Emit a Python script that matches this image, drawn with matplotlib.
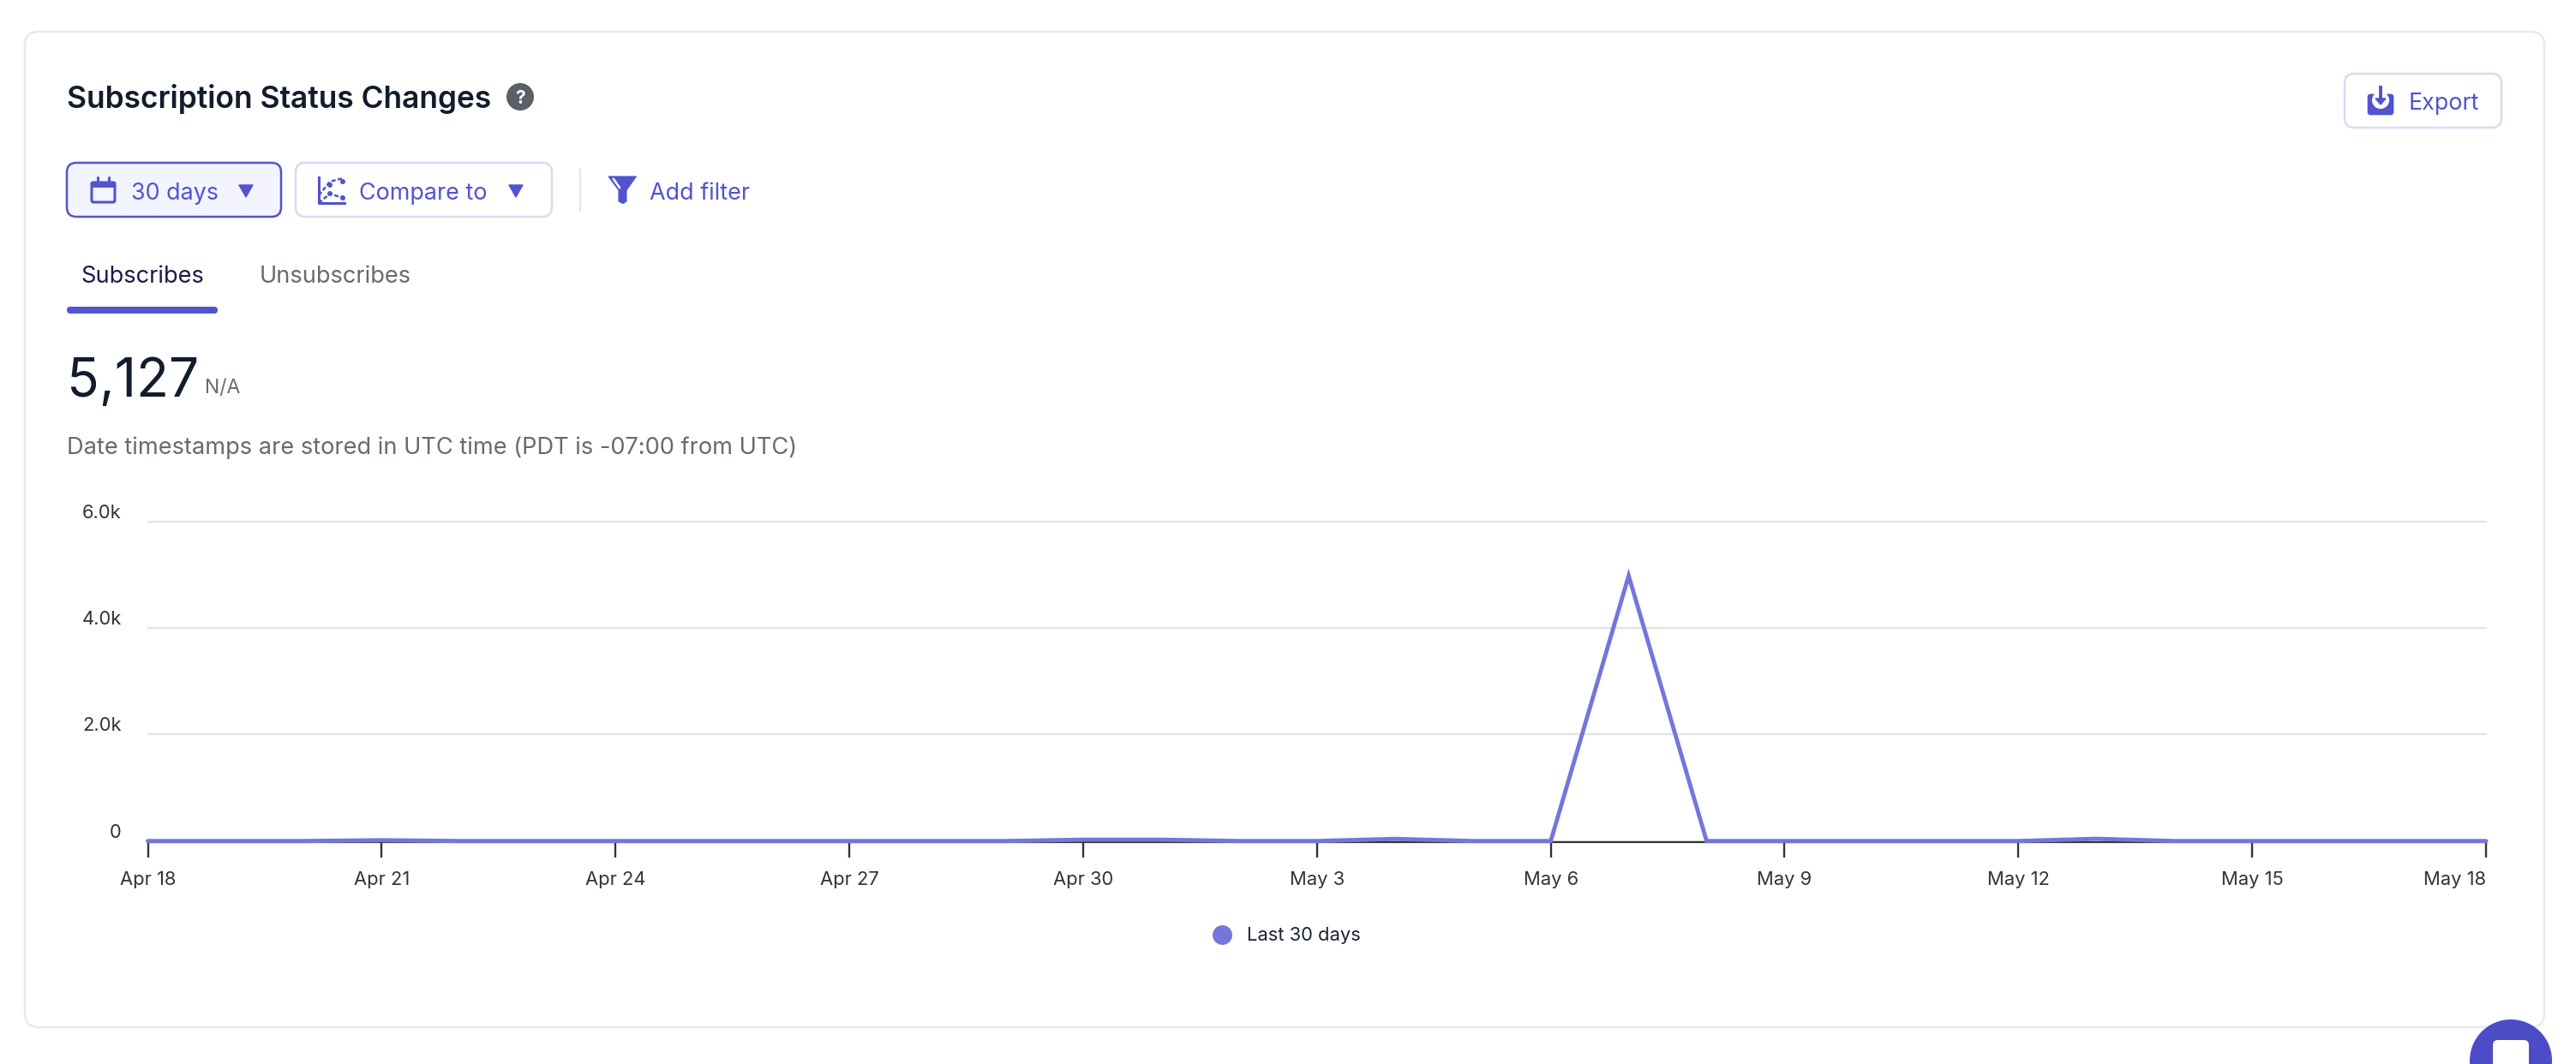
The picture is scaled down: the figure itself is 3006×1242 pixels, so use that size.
import matplotlib
matplotlib.use("Agg")
import matplotlib.pyplot as plt
from matplotlib.patches import FancyBboxPatch, Circle, Polygon, Rectangle
from matplotlib.lines import Line2D
from datetime import date, timedelta

# ---- data ----
start_date = date(2024, 4, 18)
subscribes = [0, 0, 0, 15, 0, 0, 0, 0, 0, 0, 0, 0, 25, 25, 0, 0, 40, 0, 0,
              4980, 0, 0, 0, 0, 0, 42, 0, 0, 0, 0, 0]
dates = [start_date + timedelta(days=i) for i in range(len(subscribes))]
x_tick_dates = dates[::3]
x_tick_labels = ["Apr 18", "Apr 21", "Apr 24", "Apr 27", "Apr 30", "May 3", "May 6",
                 "May 9", "May 12", "May 15", "May 18"]
y_ticks = [0, 2000, 4000, 6000]
y_tick_labels = ["0", "2.0k", "4.0k", "6.0k"]
series_name = "Last 30 days"

W, H = 3006, 1242
ACC = "#5253CF"
LINE = "#7476DA"
BORDER2 = "#D9DAF5"
plt.rcParams['font.family'] = ['Inter', 'DejaVu Sans']

fig = plt.figure(figsize=(W / 100, H / 100), dpi=100, facecolor="white")

# ---- page furniture in pixel coordinates ----
ui = fig.add_axes([0, 0, 1, 1], zorder=0)
ui.set_xlim(0, W)
ui.set_ylim(H, 0)
ui.axis("off")


def rbox(x0, y0, x1, y1, r, fc, ec, lw, z=1):
    ui.add_patch(FancyBboxPatch((x0 + r, y0 + r), x1 - x0 - 2 * r, y1 - y0 - 2 * r,
                                boxstyle=f"round,pad={r},rounding_size={r}",
                                fc=fc, ec=ec, lw=lw, zorder=z))


def txt(x, y, s, size, color, weight="normal", ha="left"):
    ui.text(x, y, s, fontsize=size, color=color, fontweight=weight, ha=ha,
            va="center_baseline", zorder=5)


def tri(x0, x1, y0, y1):
    ui.add_patch(Polygon([(x0, y0), (x1, y0), ((x0 + x1) / 2, y1)], closed=True, fc=ACC, ec=ACC,
                         lw=1, joinstyle="round", zorder=5))


# card
rbox(29, 37, 2969, 1199, 16, "white", "#E8E9EB", 1.8)

# header
txt(78, 112, "Subscription Status Changes", 25.45, "#111C2C", "semibold")
ui.add_patch(Circle((607, 113), 16, fc="#5A6068", ec="none", zorder=4))
txt(607, 113, "?", 15, "white", "bold", ha="center")

# 30 days button
rbox(78, 190, 328, 253, 11, "#F3F4FD", ACC, 1.8)
ui.add_patch(FancyBboxPatch((107, 213), 27, 23, boxstyle="round,pad=0,rounding_size=2",
                            fc="none", ec=ACC, lw=2.2, zorder=5))
ui.add_patch(Rectangle((106, 212), 29, 7, fc=ACC, ec="none", zorder=5))
for xv in (114, 127):
    ui.plot([xv, xv], [207, 214], color=ACC, lw=2.2, zorder=5, solid_capstyle="round")
txt(153, 223, "30 days", 19.3, ACC)
tri(279, 295, 216, 230)

# Compare to button
rbox(345, 190, 644, 253, 11, "white", BORDER2, 1.8)
ui.plot([372, 372, 402], [207, 237, 237], color=ACC, lw=2.2, zorder=5)
ui.plot([372, 385, 400], [228, 212, 208], color=ACC, lw=1.8, ls=(0, (2, 1)), zorder=5)
ui.plot([372, 385, 400], [237, 226, 231], color=ACC, lw=1.8, ls=(0, (2, 1)), zorder=5)
for px, py in [(385, 216), (400, 212), (385, 226), (400, 231)]:
    ui.add_patch(Circle((px, py), 3, fc=ACC, ec="none", zorder=5))
txt(419, 223, "Compare to", 19.4, ACC)
tri(594, 610, 216, 230)

# divider + filter
ui.plot([677, 677], [198, 246], color="#E4E5EA", lw=1.6, zorder=2)
ui.add_patch(Polygon([(710, 206), (742.5, 206), (731, 222), (731, 235), (727, 237.5), (722, 235), (722, 222)],
                     closed=True, fc=ACC, ec=ACC, lw=0.8, zorder=5))
ui.plot([716, 723], [209, 219], color="white", lw=1.8, zorder=6)
txt(757.5, 223, "Add filter", 19.4, ACC)

# tabs
txt(94.4, 320, "Subscribes", 19.6, "#1A1A4B")
txt(303, 320, "Unsubscribes", 19.6, "#666A72")
rbox(78, 358, 254, 366, 4, ACC, "none", 0)

# big number
txt(78, 440, "5,127", 44.8, "#111C2C")
txt(239, 451, "N/A", 16.5, "#666A72")
txt(78, 520, "Date timestamps are stored in UTC time (PDT is -07:00 from UTC)", 19.6, "#666A72")

# export button
rbox(2736, 86, 2919, 149, 11, "white", BORDER2, 1.8)
rbox(2763, 110, 2793, 134, 3, ACC, ACC, 0.5, z=5)
ui.add_patch(Circle((2778, 117), 10, fc="white", ec="none", zorder=6))
ui.plot([2778, 2778], [102, 118], color=ACC, lw=2.8, zorder=7)
ui.add_patch(Polygon([(2772, 115), (2784, 115), (2778, 122)], closed=True, fc=ACC, ec=ACC, lw=1, zorder=7))
txt(2811, 118, "Export", 19.3, ACC)

# chat bubble
ui.add_patch(Circle((2930, 1238), 48, fc="#4B4CC6", ec="none", zorder=8))
rbox(2909, 1214, 2951, 1270, 6, "white", "none", 0, z=9)

# ---- chart ----
ax_left, ax_right = 172.5, 2901
ax_top, ax_bottom = 608.7, 983.2
ax = fig.add_axes([ax_left / W, 1 - ax_bottom / H, (ax_right - ax_left) / W, (ax_bottom - ax_top) / H],
                  zorder=2)
ax.patch.set_alpha(0)
ax.set_xlim(dates[0], dates[-1])
ax.set_ylim(-24, 6000)
ax.plot(dates, subscribes, color=LINE, lw=3.5, clip_on=False, zorder=4, solid_capstyle="round",
        solid_joinstyle="miter", label=series_name)

for s in ("top", "left", "right"):
    ax.spines[s].set_visible(False)
ax.spines["bottom"].set_color("#333333")
ax.spines["bottom"].set_linewidth(1.6)

ax.set_yticks(y_ticks)
ax.set_yticklabels(y_tick_labels)
ax.set_xticks(x_tick_dates)
ax.set_xticklabels(x_tick_labels)
ax.tick_params(axis="x", length=13, width=1.7, color="#333333", labelcolor="#333333", labelsize=15.8, pad=11)
ax.tick_params(axis="y", length=0, labelcolor="#333333", labelsize=15.8, pad=22)
ax.grid(axis="y", color="#E4E4E6", lw=1.7, zorder=0, clip_on=False)
for gl in ax.get_ygridlines():
    gl.set_clip_on(False)
for lab in ax.get_yticklabels():
    lab.set_verticalalignment("bottom")
ax.get_xticklabels()[-1].set_horizontalalignment("right")

handle = Line2D([], [], marker="o", ls="none", color=LINE, ms=16.5, mew=0)
leg = ax.legend([handle], [series_name], loc="center", bbox_to_anchor=(1496 / W, 1 - 1092.5 / H),
                bbox_transform=fig.transFigure, frameon=False, fontsize=15.8, handletextpad=0.3,
                labelcolor="#1A2230", borderpad=0)

fig.savefig("out.png", dpi=100, facecolor="white")
